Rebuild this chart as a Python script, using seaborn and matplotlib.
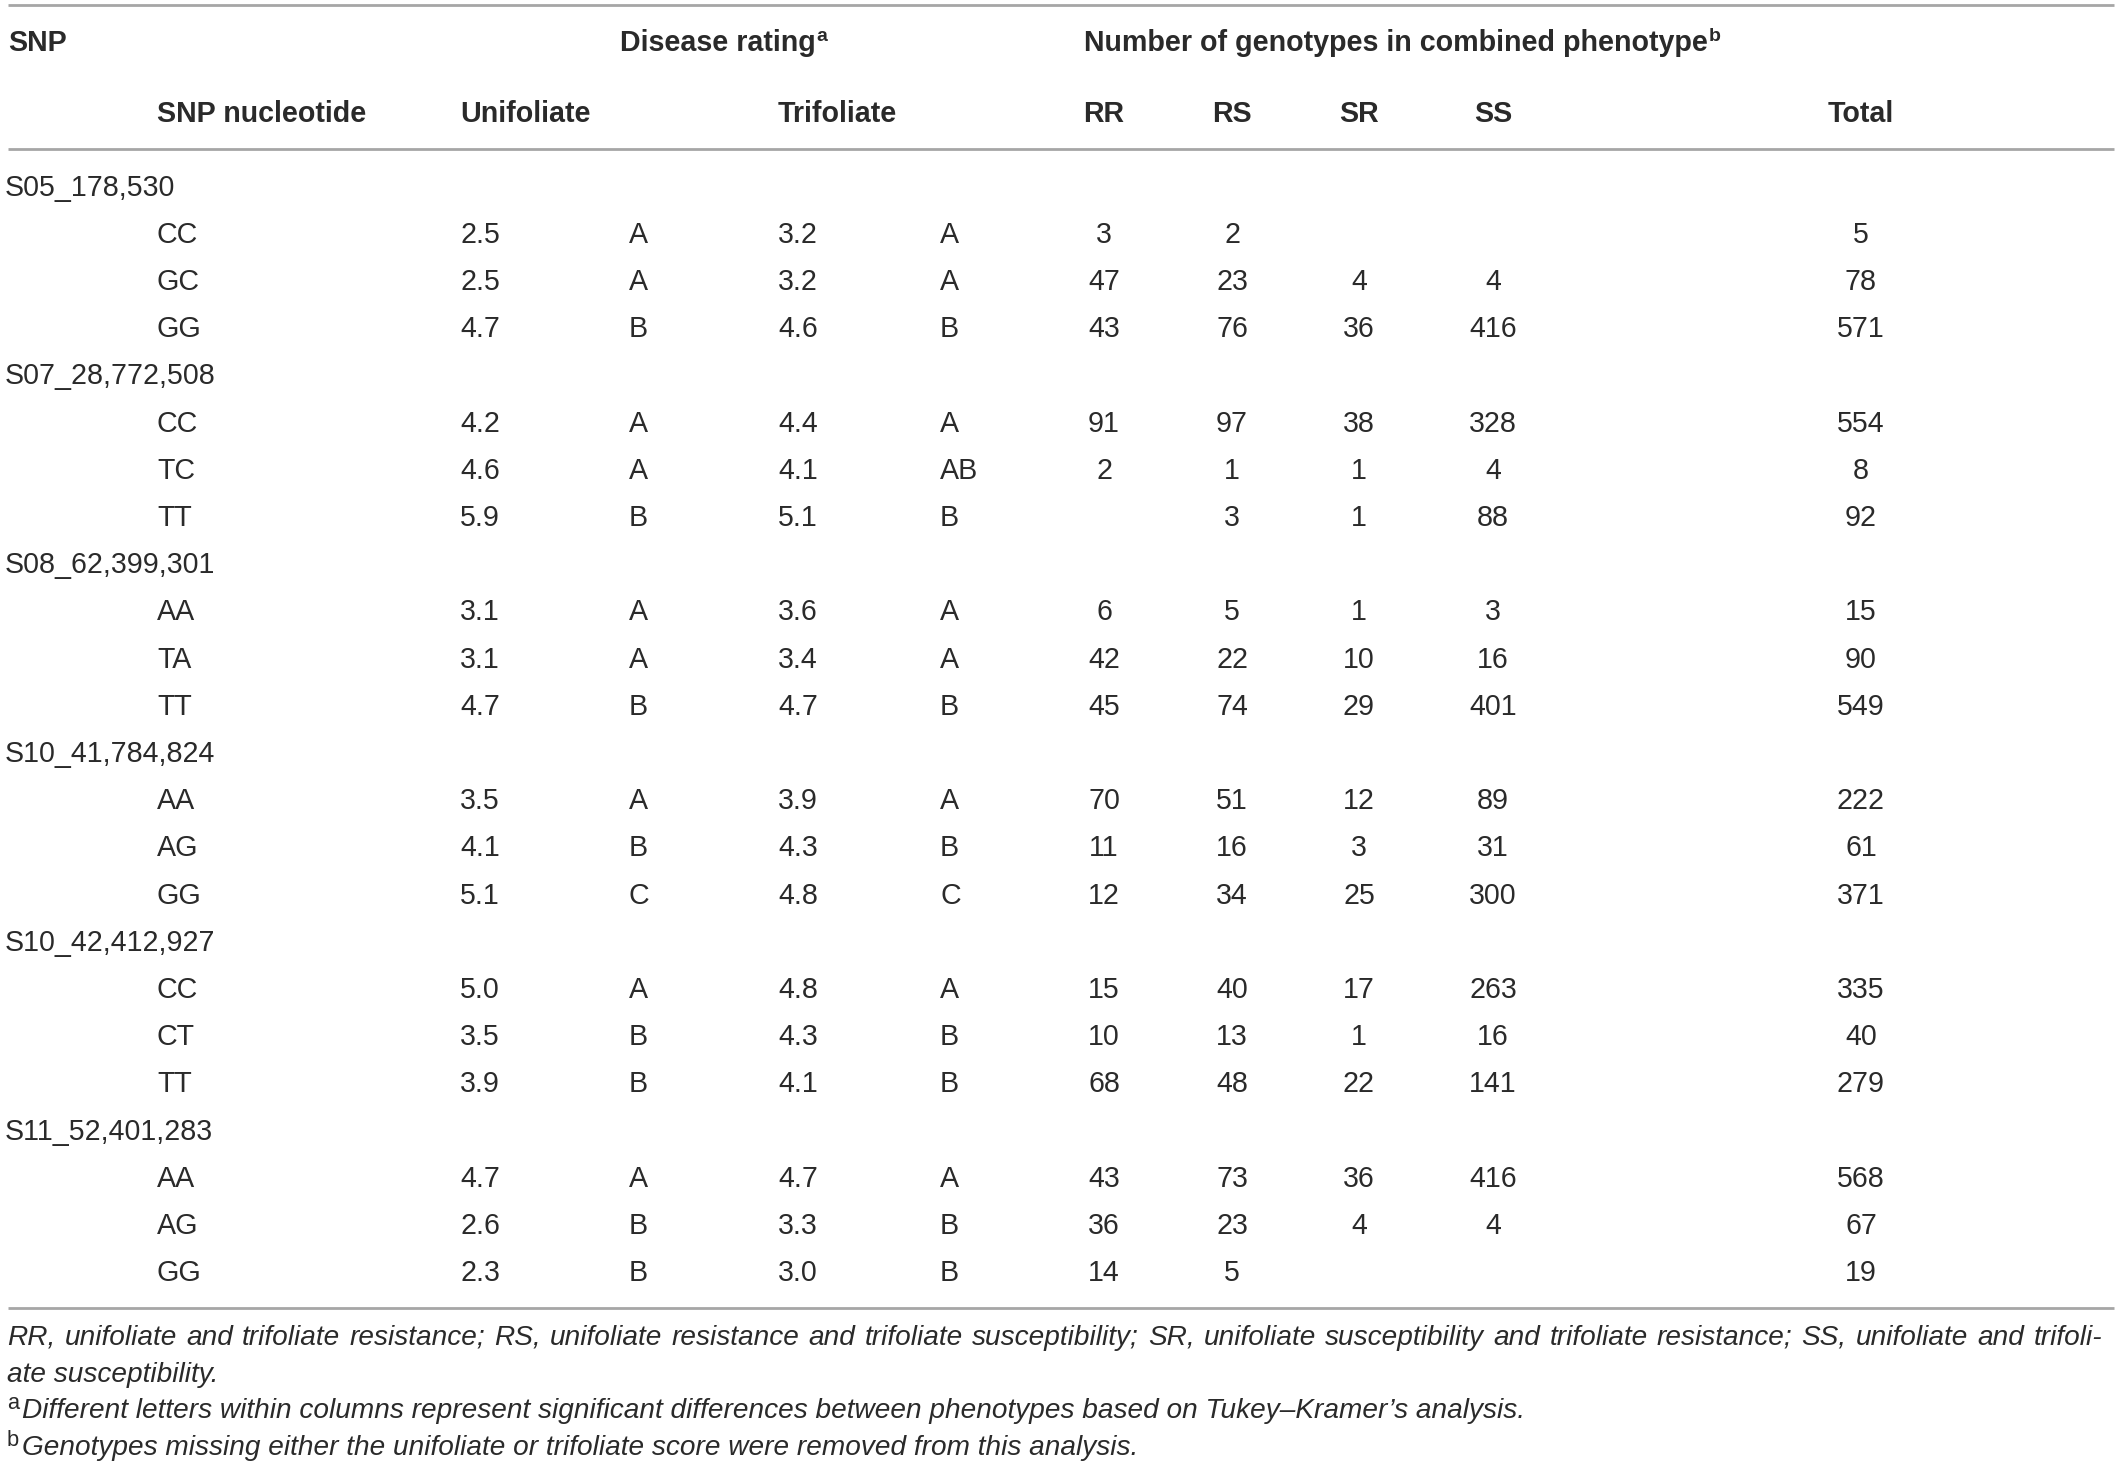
import matplotlib
matplotlib.use("Agg")
import matplotlib.pyplot as plt
import seaborn as sns
import pandas as pd

# table data
snp_ids = ["S05_178,530", "S07_28,772,508", "S08_62,399,301",
           "S10_41,784,824", "S10_42,412,927", "S11_52,401,283"]
nucleotides = [["CC", "GC", "GG"], ["CC", "TC", "TT"], ["AA", "TA", "TT"],
               ["AA", "AG", "GG"], ["CC", "CT", "TT"], ["AA", "AG", "GG"]]
uni_score = ["2.5", "2.5", "4.7", "4.2", "4.6", "5.9", "3.1", "3.1", "4.7",
             "3.5", "4.1", "5.1", "5.0", "3.5", "3.9", "4.7", "2.6", "2.3"]
uni_group = ["A", "A", "B", "A", "A", "B", "A", "A", "B",
             "A", "B", "C", "A", "B", "B", "A", "B", "B"]
tri_score = ["3.2", "3.2", "4.6", "4.4", "4.1", "5.1", "3.6", "3.4", "4.7",
             "3.9", "4.3", "4.8", "4.8", "4.3", "4.1", "4.7", "3.3", "3.0"]
tri_group = ["A", "A", "B", "A", "AB", "B", "A", "A", "B",
             "A", "B", "C", "A", "B", "B", "A", "B", "B"]
rr = [3, 47, 43, 91, 2, None, 6, 42, 45, 70, 11, 12, 15, 10, 68, 43, 36, 14]
rs = [2, 23, 76, 97, 1, 3, 5, 22, 74, 51, 16, 34, 40, 13, 48, 73, 23, 5]
sr = [None, 4, 36, 38, 1, 1, 1, 10, 29, 12, 3, 25, 17, 1, 22, 36, 4, None]
ss = [None, 4, 416, 328, 4, 88, 3, 16, 401, 89, 31, 300, 263, 16, 141, 416, 4, None]
total = [5, 78, 571, 554, 8, 92, 15, 90, 549, 222, 61, 371, 335, 40, 279, 568, 67, 19]

header_top = ["SNP", "Disease rating", "Number of genotypes in combined phenotype"]
header_sub = ["SNP nucleotide", "Unifoliate", "Trifoliate", "RR", "RS", "SR", "SS", "Total"]

foot_main = ("RR, unifoliate and trifoliate resistance; RS, unifoliate resistance and "
             "trifoliate susceptibility; SR, unifoliate susceptibility and trifoliate "
             "resistance; SS, unifoliate and trifoli-")
foot_main2 = "ate susceptibility."
foot_a = ("Different letters within columns represent significant differences between "
          "phenotypes based on Tukey\u2013Kramer\u2019s analysis.")
foot_b = "Genotypes missing either the unifoliate or trifoliate score were removed from this analysis."

df = pd.DataFrame({
    "snp": [s for s in snp_ids for _ in range(3)],
    "nuc": [n for grp in nucleotides for n in grp],
    "uni": uni_score, "uni_g": uni_group,
    "tri": tri_score, "tri_g": tri_group,
    "RR": rr, "RS": rs, "SR": sr, "SS": ss, "Total": total,
})

sns.set_theme(style="white")
plt.rcParams["font.family"] = ["Liberation Sans", "DejaVu Sans"]

W, H = 2120, 1469
fig = plt.figure(figsize=(W / 100, H / 100), dpi=100)
ax = fig.add_axes([0, 0, 1, 1])
ax.set_xlim(0, W)
ax.set_ylim(H, 0)
ax.axis("off")

ink = "#2a2a2a"
rule = "#a6a6a6"
fs = 20.6

# column anchors (pixels)
x_snp, x_nuc = 5, 157
x_uni, x_uni_g = 460, 629
x_tri, x_tri_g = 778, 940
x_counts = {"RR": 1104, "RS": 1232, "SR": 1359, "SS": 1493, "Total": 1861}

renderer = fig.canvas.get_renderer()


def width(t):
    return t.get_window_extent(renderer=renderer).width


def sup(t, letter, y, size, bold=False):
    x = t.get_position()[0] + width(t) + 1
    ax.text(x, y, letter, fontsize=size, color=ink,
            fontweight="bold" if bold else "normal", va="baseline", ha="left")


# rules
ax.hlines([5, 149, 1308], 8, 2114, color=rule, lw=2)

# header
y1, y2 = 51, 122
ax.text(8, y1, header_top[0], fontsize=fs, fontweight="bold", color=ink, va="baseline")
t = ax.text(620, y1, header_top[1], fontsize=fs, fontweight="bold", color=ink, va="baseline")
sup(t, "a", y1 - 10, 14, bold=True)
t = ax.text(1084, y1, header_top[2], fontsize=fs, fontweight="bold", color=ink, va="baseline")
sup(t, "b", y1 - 10, 14, bold=True)

ax.text(x_nuc, y2, header_sub[0], fontsize=fs, fontweight="bold", color=ink, va="baseline")
ax.text(x_uni, y2, header_sub[1], fontsize=fs, fontweight="bold", color=ink, va="baseline")
ax.text(x_tri, y2, header_sub[2], fontsize=fs, fontweight="bold", color=ink, va="baseline")
for name in header_sub[3:]:
    ax.text(x_counts[name], y2, name, fontsize=fs, fontweight="bold", color=ink,
            va="baseline", ha="center")

# body
y0, dy = 195.5, 47.2
line = 0
for snp, grp in df.groupby("snp", sort=False):
    ax.text(x_snp, y0 + line * dy, snp, fontsize=fs, color=ink, va="baseline")
    line += 1
    for _, r in grp.iterrows():
        y = y0 + line * dy
        ax.text(x_nuc, y, r["nuc"], fontsize=fs, color=ink, va="baseline")
        ax.text(x_uni, y, r["uni"], fontsize=fs, color=ink, va="baseline")
        ax.text(x_uni_g, y, r["uni_g"], fontsize=fs, color=ink, va="baseline")
        ax.text(x_tri, y, r["tri"], fontsize=fs, color=ink, va="baseline")
        ax.text(x_tri_g, y, r["tri_g"], fontsize=fs, color=ink, va="baseline")
        for col, xc in x_counts.items():
            v = r[col]
            if pd.notna(v):
                ax.text(xc, y, str(int(v)), fontsize=fs, color=ink,
                        va="baseline", ha="center")
        line += 1

# footnotes: size fitted so footnote a spans like the reference
probe = ax.text(0, 0, foot_a, fontsize=20, style="italic")
ffs = 20 * 1500 / width(probe)
probe.remove()

# justified first line
words = foot_main.split(" ")
arts = [ax.text(0, 1345, w, fontsize=ffs, style="italic", color=ink, va="baseline")
        for w in words]
ws = [width(a) for a in arts]
left, right = 7, 2102
gap = (right - left - sum(ws)) / (len(words) - 1)
x = left
for a, w in zip(arts, ws):
    a.set_x(x)
    x += w + gap

ax.text(left, 1382, foot_main2, fontsize=ffs, style="italic", color=ink, va="baseline")
ax.text(left, 1409, "a", fontsize=ffs * 0.78, color=ink, va="baseline")
ax.text(22, 1418, foot_a, fontsize=ffs, style="italic", color=ink, va="baseline")
ax.text(left, 1446, "b", fontsize=ffs * 0.78, color=ink, va="baseline")
ax.text(22, 1455, foot_b, fontsize=ffs, style="italic", color=ink, va="baseline")

fig.savefig("out.png", dpi=100, facecolor="white")
